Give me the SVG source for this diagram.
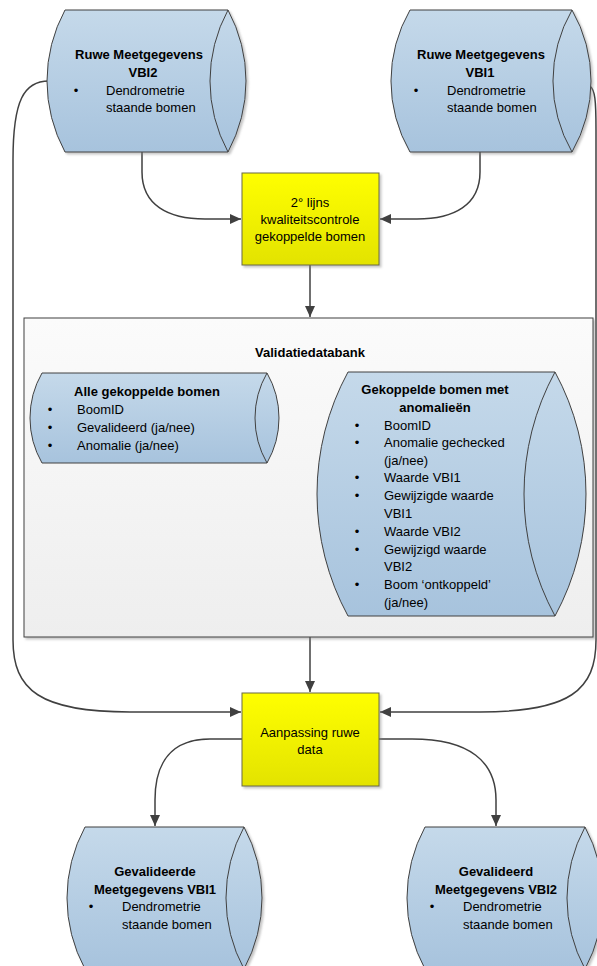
<svg xmlns="http://www.w3.org/2000/svg" width="597" height="966" viewBox="0 0 597 966">
<style>
.cyl{fill:url(#gBlue);stroke:#404040;stroke-width:1}
.inner{fill:none;stroke:#404040;stroke-width:1}
.proc{fill:url(#gYellow);stroke:#6a6a45;stroke-width:1}
.db{fill:url(#gGray);stroke:#404040;stroke-width:1}
.sh{filter:url(#shadow)}
.con{fill:none;stroke:#404040;stroke-width:1.5}
.arr{marker-end:url(#ah)}
text{font-family:"Liberation Sans",Arial,sans-serif;font-size:13px;fill:#000}
.b{font-weight:bold}
.c{text-anchor:middle}
</style>
<defs>
<linearGradient id="gBlue" x1="0" y1="0" x2="0" y2="1">
<stop offset="0" stop-color="#c5d9ea"/>
<stop offset="1" stop-color="#a7c3dd"/>
</linearGradient>
<linearGradient id="gYellow" x1="0" y1="0" x2="0" y2="1">
<stop offset="0" stop-color="#ffff00"/>
<stop offset="1" stop-color="#e3e300"/>
</linearGradient>
<linearGradient id="gGray" x1="0" y1="0" x2="0" y2="1">
<stop offset="0" stop-color="#fbfbfb"/>
<stop offset="1" stop-color="#eeeeee"/>
</linearGradient>
<filter id="shadow" x="-10%" y="-10%" width="125%" height="125%">
<feDropShadow dx="2" dy="2" stdDeviation="1" flood-color="#808080" flood-opacity="0.45"/>
</filter>
<marker id="ah" markerUnits="userSpaceOnUse" markerWidth="11" markerHeight="10" refX="11" refY="5" orient="auto">
<path d="M0,0 L11,5 L0,10 z" fill="#404040"/>
</marker>
</defs>

<g id="connectors">
<path class="con arr" d="M142,152 L142,172 C142,205 168,219 205,219 L241,219"/>
<path class="con arr" d="M480,152 L480,172 C480,205 454,219 417,219 L380,219"/>
<path class="con arr" d="M310,265 L310,317"/>
<path class="con arr" d="M310,637 L310,692"/>
<path class="con arr" d="M49,81 C24,81 13,100 13,160 L13,640 C13,690 40,712 130,712 L241,712"/>
<path class="con arr" d="M590,86 C595,90 596,100 596,130 L596,640 C596,690 570,712 480,712 L380,712"/>
<path class="con arr" d="M242,739 L210,739 C172,739 155,762 155,800 L155,826"/>
<path class="con arr" d="M379,739 L412,739 C470,739 496,762 496,800 L496,826"/>
</g>

<g id="ruwe-vbi2">
<path class="cyl sh" d="M65,10 L228,10 A149,149 0 0 1 228,152 L65,152 A149,149 0 0 1 65,10 Z"/>
<path class="inner" d="M228,10 A149,149 0 0 0 228,152"/>
<text class="b c" x="139" y="59">Ruwe Meetgegevens</text>
<text class="b c" x="143" y="77">VBI2</text>
<text x="76" y="95" class="c">•</text>
<text x="106" y="95">Dendrometrie</text>
<text x="106" y="112">staande bomen</text>
</g>

<g id="ruwe-vbi1">
<path class="cyl sh" d="M410,10 L572,10 A142,142 0 0 1 572,152 L410,152 A142,142 0 0 1 410,10 Z"/>
<path class="inner" d="M572,10 A142,142 0 0 0 572,152"/>
<text class="b c" x="481" y="59">Ruwe Meetgegevens</text>
<text class="b c" x="480" y="77">VBI1</text>
<text x="416" y="95" class="c">•</text>
<text x="447" y="95">Dendrometrie</text>
<text x="447" y="112">staande bomen</text>
</g>

<g id="kwaliteitscontrole">
<rect class="proc sh" x="242" y="173" width="137" height="92"/>
<text class="c" x="310" y="207">2° lijns</text>
<text class="c" x="310" y="224">kwaliteitscontrole</text>
<text class="c" x="310" y="241">gekoppelde bomen</text>
</g>

<g id="validatiedatabank">
<rect class="db sh" x="24" y="318" width="569" height="319"/>
<text class="b c" x="310" y="357">Validatiedatabank</text>
</g>

<g id="alle-gekoppelde-bomen">
<path class="cyl" d="M42,373 L267,373 A90.4,90.4 0 0 1 267,463 L42,463 A90.4,90.4 0 0 1 42,373 Z"/>
<path class="inner" d="M267,373 A90.4,90.4 0 0 0 267,463"/>
<text class="b c" x="147" y="396">Alle gekoppelde bomen</text>
<text x="50" y="414" class="c">•</text>
<text x="77" y="414">BoomID</text>
<text x="50" y="432" class="c">•</text>
<text x="77" y="432">Gevalideerd (ja/nee)</text>
<text x="50" y="450" class="c">•</text>
<text x="77" y="450">Anomalie (ja/nee)</text>
</g>

<g id="gekoppelde-bomen-anomalieen">
<path class="cyl" d="M348,372 L555,372 A255.6,255.6 0 0 1 555,616 L348,616 A255.6,255.6 0 0 1 348,372 Z"/>
<path class="inner" d="M555,372 A255.6,255.6 0 0 0 555,616"/>
<text class="b c" x="435" y="394">Gekoppelde bomen met</text>
<text class="b c" x="435" y="412">anomalieën</text>
<text x="357" y="429.5" class="c">•</text>
<text x="384" y="429.5">BoomID</text>
<text x="357" y="447" class="c">•</text>
<text x="384" y="447">Anomalie gechecked</text>
<text x="384" y="464.5">(ja/nee)</text>
<text x="357" y="482" class="c">•</text>
<text x="384" y="482">Waarde VBI1</text>
<text x="357" y="500" class="c">•</text>
<text x="384" y="500">Gewijzigde waarde</text>
<text x="384" y="517.5">VBI1</text>
<text x="357" y="535.5" class="c">•</text>
<text x="384" y="535.5">Waarde VBI2</text>
<text x="357" y="553.5" class="c">•</text>
<text x="384" y="553.5">Gewijzigd waarde</text>
<text x="384" y="571">VBI2</text>
<text x="357" y="589" class="c">•</text>
<text x="384" y="589">Boom ‘ontkoppeld’</text>
<text x="384" y="607">(ja/nee)</text>
</g>

<g id="aanpassing-ruwe-data">
<rect class="proc sh" x="242" y="693" width="137" height="93"/>
<text class="c" x="310" y="736.5">Aanpassing ruwe</text>
<text class="c" x="310" y="753.5">data</text>
</g>

<g id="gevalideerde-vbi1">
<path class="cyl sh" d="M85,827 L244,827 A149,149 0 0 1 244,969 L85,969 A149,149 0 0 1 85,827 Z"/>
<path class="inner" d="M244,827 A149,149 0 0 0 244,969"/>
<text class="b c" x="155" y="875.5">Gevalideerde</text>
<text class="b c" x="155" y="893.5">Meetgegevens VBI1</text>
<text x="91" y="911" class="c">•</text>
<text x="122" y="911">Dendrometrie</text>
<text x="122" y="928.5">staande bomen</text>
</g>

<g id="gevalideerd-vbi2">
<path class="cyl sh" d="M425,827 L585,827 A149,149 0 0 1 585,969 L425,969 A149,149 0 0 1 425,827 Z"/>
<path class="inner" d="M585,827 A149,149 0 0 0 585,969"/>
<text class="b c" x="496" y="875.5">Gevalideerd</text>
<text class="b c" x="496" y="893.5">Meetgegevens VBI2</text>
<text x="432" y="911" class="c">•</text>
<text x="463" y="911">Dendrometrie</text>
<text x="463" y="928.5">staande bomen</text>
</g>
</svg>
